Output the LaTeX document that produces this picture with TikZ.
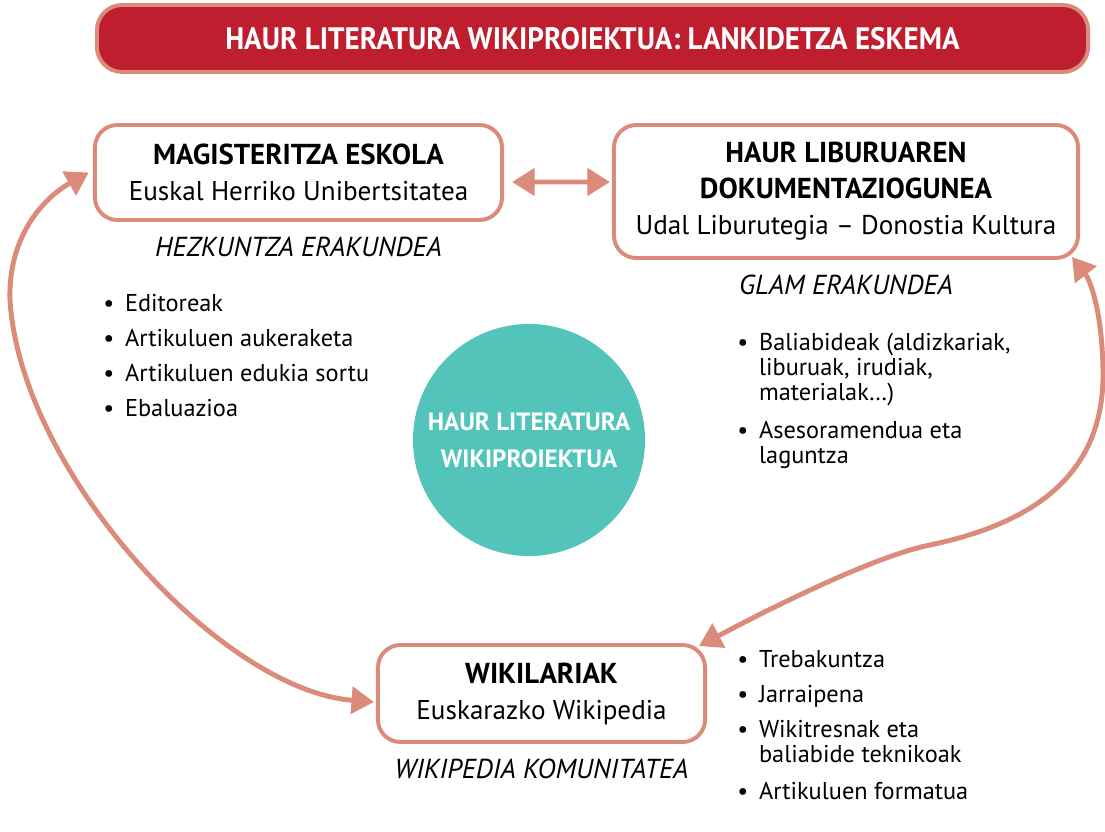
\documentclass[tikz,border=0pt]{standalone}
\usepackage{fontspec}
\setmainfont{PT Sans}
\usetikzlibrary{arrows.meta,positioning}

\definecolor{salmon}{RGB}{218,139,121}
\definecolor{titlered}{RGB}{190,30,45}
\definecolor{wikiteal}{RGB}{82,196,185}

\newcommand{\orgname}[1]{{\fontsize{20.5}{26}\selectfont\bfseries #1}}
\newcommand{\bl}{\makebox[15.5pt][l]{•}}
\newcommand{\ind}{\hspace*{15.5pt}}

\tikzset{
  orgbox/.style={draw=salmon, line width=2.8pt, rounded corners=16pt, align=center,
    fill=white, font=\fontsize{19.3}{25.6}\selectfont},
  orgtype/.style={font=\fontsize{19.5}{22}\selectfont\itshape},
  itemlist/.style={align=left, inner sep=0pt, anchor=north west,
    font=\fontsize{17.3}{17.8}\selectfont},
  link/.style={draw=salmon, line width=3.5pt, {Triangle[length=16pt,width=19pt]}-{Triangle[length=16pt,width=19pt]}},
}

\begin{document}
\begin{tikzpicture}[x=0.025cm,y=-0.025cm]
  \useasboundingbox (0,0) rectangle (1105,832);

  % title bar
  \node[draw=salmon, fill=titlered, line width=2.8pt, rounded corners=18pt,
    minimum width=24.775cm, minimum height=1.675cm, text=white,
    font=\fontsize{22}{26}\selectfont\bfseries] (title) at (592.5,38.5)
    {\scalebox{0.94}[1]{HAUR LITERATURA WIKIPROIEKTUA: LANKIDETZA ESKEMA}};

  % organisations
  \node[orgbox, minimum width=10.175cm, minimum height=2.375cm] (mag) at (298.5,172.5)
    {\orgname{MAGISTERITZA ESKOLA}\\ Euskal Herriko Unibertsitatea};
  \node[orgbox, minimum width=11.6cm, minimum height=3.325cm] (lib) at (846,191.5)
    {\orgname{HAUR LIBURUAREN}\\ \orgname{DOKUMENTAZIOGUNEA}\\ Udal Liburutegia – Donostia Kultura};
  \node[orgbox, minimum width=8.175cm, minimum height=2.425cm] (wiki) at (541.5,693.5)
    {\orgname{WIKILARIAK}\\ Euskarazko Wikipedia};

  \node[orgtype, below=7pt of mag] (magtype) {HEZKUNTZA ERAKUNDEA};
  \node[orgtype, below=7pt of lib] (libtype) {GLAM ERAKUNDEA};
  \node[orgtype, below=7pt of wiki] (wikitype) {WIKIPEDIA KOMUNITATEA};

  % centre
  \node[circle, fill=wikiteal, minimum size=5.8cm, inner sep=0pt, text=white, align=center,
    font=\fontsize{17.8}{26.3}\selectfont\bfseries] (hub) at (529,440)
    {HAUR LITERATURA\\ WIKIPROIEKTUA};

  % tasks
  \node[itemlist] (magtasks) at (103,294)
    {\bl Editoreak\\[7pt] \bl Artikuluen aukeraketa\\[7pt] \bl Artikuluen edukia sortu\\[7pt] \bl Ebaluazioa};
  \node[itemlist] (libtasks) at (737,333)
    {\bl Baliabideak (aldizkariak,\\ \ind liburuak, irudiak,\\ \ind materialak…)\\[9pt]
     \bl Asesoramendua eta\\ \ind laguntza};
  \node[itemlist] (wikitasks) at (737,650)
    {\bl Trebakuntza\\[7pt] \bl Jarraipena\\[7pt] \bl Wikitresnak eta\\ \ind baliabide teknikoak\\[9pt]
     \bl Artikuluen formatua};

  % links
  \draw[link] ([shift={(8,9.5)}]mag.east) -- ([shift={(-2,-9.5)}]lib.west);
  \draw[link] ([shift={(-2,8.5)}]wiki.west) .. controls (220,690) and (20,470) .. (10,300)
    .. controls (8,240) and (40,200) .. ([xshift=-3]mag.west);
  \draw[link] ([shift={(-8,3)}]wiki.north east) .. controls (790,598) and (880,555) .. (930,545)
    .. controls (1040,522) and (1105,470) .. (1103,370)
    .. controls (1102,310) and (1090,280) .. ([shift={(-8,-3)}]lib.south east);
\end{tikzpicture}
\end{document}
